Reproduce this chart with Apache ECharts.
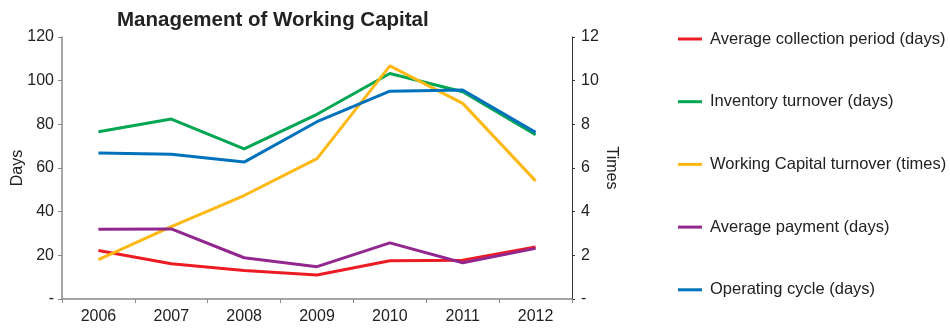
<!DOCTYPE html>
<html>
<head>
<meta charset="utf-8">
<script src="https://cdn.jsdelivr.net/npm/echarts@6/dist/echarts.min.js"></script>
<style>
  html, body { margin: 0; padding: 0; background: #fff; }
  #chart { width: 950px; height: 330px; }
</style>
</head>
<body>
<div id="chart"></div>
<script>
// Years on the category axis
const years = ['2006', '2007', '2008', '2009', '2010', '2011', '2012'];

// Day-based measures (left axis)
const collectionDays = [22.2, 16.1, 13.1, 11.0, 17.5, 17.8, 23.8];
const inventoryDays = [76.6, 82.4, 68.8, 84.6, 103.3, 94.9, 75.2];
const paymentDays = [32.0, 32.1, 18.9, 14.8, 25.7, 16.6, 23.2];
const operatingDays = [66.9, 66.3, 62.7, 81.2, 95.2, 95.7, 76.3];

// Turnover ratio (right axis)
const wcTurnover = [1.80, 3.32, 4.74, 6.43, 10.68, 8.96, 5.41];

const seriesNames = [
  'Average collection period (days)',
  'Inventory turnover (days)',
  'Working Capital turnover (times)',
  'Average payment (days)',
  'Operating cycle (days)'
];

const FONT = 'Liberation Sans, Arial, sans-serif';
const zeroDash = v => (v === 0 ? '-' : String(v));

const chart = echarts.init(document.getElementById('chart'), null, { renderer: 'canvas' });

function lineSeries(name, data, color, axisIndex) {
  return {
    name: name,
    type: 'line',
    yAxisIndex: axisIndex,
    data: data,
    symbol: 'none',
    lineStyle: { color: color, width: 3 },
    itemStyle: { color: color },
    animation: false
  };
}

chart.setOption({
  backgroundColor: '#ffffff',
  title: {
    text: 'Management of Working Capital',
    left: 112,
    top: 5,
    textStyle: { fontFamily: FONT, fontSize: 20.5, fontWeight: 'bold', color: '#222' }
  },
  grid: { left: 62, right: 378, top: 37, bottom: 31, outerBoundsMode: 'none', containLabel: false },
  legend: {
    orient: 'vertical',
    left: 673,
    top: 24,
    itemWidth: 24,
    itemHeight: 3,
    itemGap: 42.7,
    icon: 'rect',
    data: seriesNames,
    textStyle: { fontFamily: FONT, fontSize: 16.5, color: '#222', lineHeight: 20, padding: [0, 0, 0, 3] }
  },
  xAxis: {
    type: 'category',
    data: years,
    boundaryGap: true,
    axisLine: { lineStyle: { color: '#888', width: 1.5 } },
    axisTick: { show: true, length: 4, inside: false, lineStyle: { color: '#888' } },
    axisLabel: { fontFamily: FONT, fontSize: 16, color: '#222', margin: 10 }
  },
  yAxis: [
    {
      type: 'value',
      min: 0, max: 120, interval: 20,
      name: 'Days',
      nameLocation: 'middle',
      nameGap: 36,
      nameMoveOverlap: false,
      nameTextStyle: { fontFamily: FONT, fontSize: 16, color: '#222' },
      axisLine: { show: true, lineStyle: { color: '#888', width: 1.5 } },
      axisTick: { show: true, length: 4, lineStyle: { color: '#888' } },
      splitLine: { show: false },
      axisLabel: { fontFamily: FONT, fontSize: 16, color: '#222', margin: 8, formatter: zeroDash }
    },
    {
      type: 'value',
      min: 0, max: 12, interval: 2,
      name: 'Times',
      nameLocation: 'middle',
      nameGap: 31,
      nameMoveOverlap: false,
      nameRotate: -90,
      nameTextStyle: { fontFamily: FONT, fontSize: 16, color: '#222' },
      position: 'right',
      axisLine: { show: true, lineStyle: { color: '#333', width: 1 } },
      axisTick: { show: true, length: 3, lineStyle: { color: '#333' } },
      splitLine: { show: false },
      axisLabel: { fontFamily: FONT, fontSize: 16, color: '#222', margin: 9, formatter: zeroDash }
    }
  ],
  series: [
    lineSeries(seriesNames[0], collectionDays, '#ed1c24', 0),
    lineSeries(seriesNames[1], inventoryDays, '#00a651', 0),
    lineSeries(seriesNames[2], wcTurnover, '#fdb813', 1),
    lineSeries(seriesNames[3], paymentDays, '#92278f', 0),
    lineSeries(seriesNames[4], operatingDays, '#0072bc', 0)
  ]
});
</script>
</body>
</html>
